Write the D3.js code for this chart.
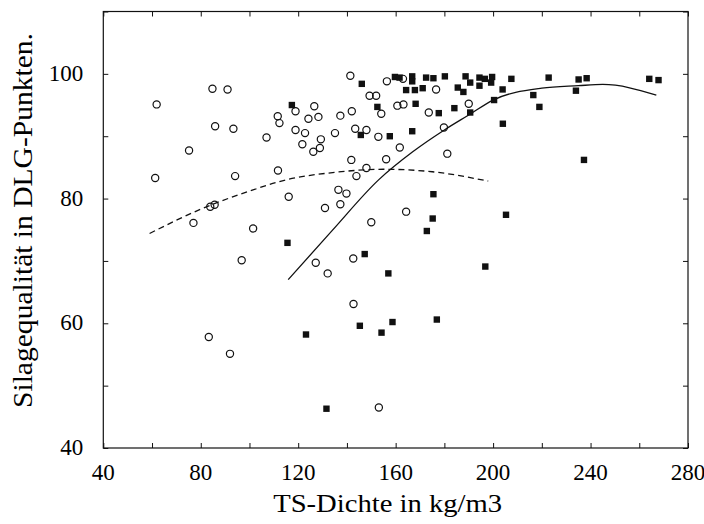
<!DOCTYPE html>
<html>
<body style="margin:0;background:#fff">

<script src="https://d3js.org/d3.v7.min.js"></script>
<style>
  svg { display:block; font-family:"Liberation Serif","Times New Roman",serif; }
  .frame { fill:none; stroke:#111; stroke-width:1.2px; }
  .tick line { stroke:#111; }
</style>

<script>
// open circles  [TS-Dichte, Punkte]
var circles = [
  [141.4,99.7],[156.4,98.8],[84.8,97.6],[91.0,97.5],[61.9,95.1],[149.3,96.5],[152.0,96.5],
  [118.9,94.0],[126.6,94.8],[111.6,93.2],[112.3,92.1],[124.2,92.8],[128.3,93.1],[137.3,93.3],
  [142.0,94.0],[154.1,93.6],[160.7,94.9],[85.9,91.6],[93.4,91.2],[118.9,91.0],[122.8,90.5],
  [107.0,89.8],[129.3,89.5],[135.1,90.5],[143.4,91.2],[148.0,91.0],[152.9,89.9],[161.7,88.2],
  [75.2,87.7],[121.7,88.7],[126.2,87.5],[128.9,88.1],[141.8,86.2],[156.1,86.3],[61.3,83.3],
  [94.1,83.6],[111.7,84.5],[143.9,83.6],[148.0,84.9],[116.1,80.3],[136.5,81.4],[139.8,80.8],
  [83.9,78.7],[85.7,79.0],[77.0,76.1],[101.5,75.2],[131.0,78.5],[137.3,79.1],[150.0,76.2],
  [96.8,70.1],[127.2,69.7],[132.1,68.0],[142.6,70.4],[142.7,63.1],[83.3,57.8],[92.0,55.1],
  [153.1,46.5],[163.0,99.2],[176.6,97.5],[163.2,95.1],[173.6,93.8],[190.0,95.2],[179.8,91.4],
  [181.2,87.2],[164.3,77.9]
];

// filled squares
var squares = [
  [117.4,95.0],[146.1,98.4],[159.7,99.5],[152.5,94.7],[145.7,90.2],[157.6,90.0],[161.6,99.4],
  [166.8,99.6],[166.8,98.8],[172.5,99.4],[175.5,99.3],[180.2,99.6],[188.7,99.6],[190.6,98.6],
  [194.4,99.4],[196.6,99.2],[199.6,99.5],[207.5,99.2],[222.8,99.4],[235.1,99.1],[238.4,99.3],
  [264.1,99.2],[267.9,99.0],[164.3,97.4],[167.9,97.4],[171.1,97.7],[185.5,97.8],[187.8,97.1],
  [194.4,98.1],[199.2,98.6],[203.9,97.5],[216.5,96.6],[234.0,97.3],[168.2,95.2],[177.7,93.7],
  [184.1,94.5],[190.6,93.8],[200.4,95.8],[219.0,94.7],[166.8,90.8],[204.0,92.0],[237.3,86.2],
  [175.5,80.7],[175.2,76.8],[172.8,74.8],[205.3,77.4],[196.8,69.1],[176.9,60.6],[115.6,72.9],
  [147.3,71.1],[157.0,68.0],[145.3,59.6],[158.7,60.2],[154.2,58.5],[123.2,58.2],[131.6,46.3]
];

// fitted curves
var dashedCurve = [[59,74.4],[80,78.3],[100,81.2],[115,83.0],[135,84.2],[155,84.7],[175,84.3],[198,82.8]];
var solidCurve = [[115.9,67.0],[134,74.9],[153,83.0],[167,87.5],[180,91.0],[190,93.4],[200,95.8],
  [220,97.7],[235,98.1],[245,98.3],[267,96.6]];

var xTicks = [40,80,120,160,200,240,280];
var yTicks = [40,60,80,100];

var W = 704, H = 524;
var margin = {top: 11.5, right: 16, bottom: 76, left: 103.3};
var width = W - margin.left - margin.right,
    height = H - margin.top - margin.bottom;

var xScale = d3.scaleLinear().domain([40,280]).range([0,width]);
var yScale = d3.scaleLinear().domain([40,110]).range([height,0]);

var svg = d3.select('body').append('svg')
  .attr('width', W).attr('height', H)
.append('g')
  .attr('transform', `translate(${margin.left}, ${margin.top})`);

// minor ticks, inward, on all four sides
var xMinor = d3.range(40, 281, 20), yMinor = d3.range(40, 111, 10);
svg.append('g').attr('class','x axis')
  .attr('transform', `translate(0, ${height})`)
  .call(d3.axisBottom(xScale).tickValues(xMinor).tickSize(-5).tickFormat(''))
  .call(g => g.select('.domain').remove());
svg.append('g')
  .call(d3.axisTop(xScale).tickValues(xMinor).tickSize(-5).tickFormat(''))
  .call(g => g.select('.domain').remove());
svg.append('g')
  .call(d3.axisLeft(yScale).tickValues(yMinor).tickSize(-5).tickFormat(''))
  .call(g => g.select('.domain').remove());
svg.append('g')
  .attr('transform', `translate(${width}, 0)`)
  .call(d3.axisRight(yScale).tickValues(yMinor).tickSize(-5).tickFormat(''))
  .call(g => g.select('.domain').remove());

svg.append('rect').attr('class','frame')
  .attr('width', width).attr('height', height);

// tick labels
svg.selectAll('.xl').data(xTicks).enter().append('text')
  .attr('x', d => xScale(d)).attr('y', height + 32)
  .attr('text-anchor','middle').style('font-size','23px').text(d => d);
svg.selectAll('.yl').data(yTicks).enter().append('text')
  .attr('x', -20).attr('y', d => yScale(d) + 7)
  .attr('text-anchor','end').style('font-size','23px').text(d => d);

svg.append('text')
  .attr('x', width/2 - 8).attr('y', height + 64)
  .attr('text-anchor','middle').style('font-size','25px')
  .attr('textLength', 229).attr('lengthAdjust','spacingAndGlyphs')
  .text('TS-Dichte in kg/m3');
svg.append('text')
  .attr('transform', `translate(${-71}, ${209}) rotate(-90)`)
  .attr('text-anchor','middle').style('font-size','27px')
  .attr('textLength', 375).attr('lengthAdjust','spacingAndGlyphs')
  .text('Silagequalität in DLG-Punkten.');

var line = d3.line().x(d => xScale(d[0])).y(d => yScale(d[1])).curve(d3.curveMonotoneX);

svg.append('path').datum(dashedCurve)
  .attr('d', line).attr('fill','none').attr('stroke','#111')
  .attr('stroke-width',1.3).attr('stroke-dasharray','6,4');
svg.append('path').datum(solidCurve)
  .attr('d', line).attr('fill','none').attr('stroke','#111').attr('stroke-width',1.3);

svg.selectAll('circle').data(circles).enter().append('circle')
  .attr('cx', d => xScale(d[0])).attr('cy', d => yScale(d[1]))
  .attr('r', 3.6).attr('fill','none').attr('stroke','#111').attr('stroke-width',1.2);

svg.selectAll('.sq').data(squares).enter().append('rect')
  .attr('x', d => xScale(d[0]) - 3.2).attr('y', d => yScale(d[1]) - 3.2)
  .attr('width', 6.4).attr('height', 6.4).attr('fill','#111');
</script>
</body>
</html>
